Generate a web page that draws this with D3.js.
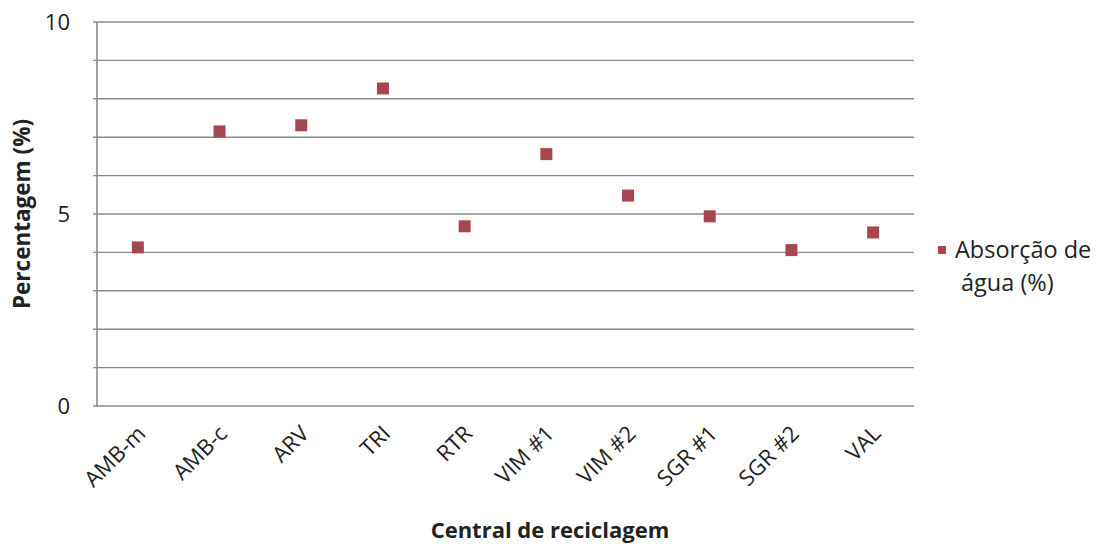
<!DOCTYPE html>
<html>
<head>
<meta charset="utf-8">
<script src="https://cdn.jsdelivr.net/npm/d3@7"></script>
<style>
  html, body { margin: 0; padding: 0; background: #fff; }
  svg { display: block; }
  text { font-family: "Open Sans", Lato, sans-serif; fill: #222; }
</style>
</head>
<body>
<svg id="chart" width="1102" height="544"></svg>
<script>
// Water absorption by recycling plant
const categories = ["AMB-m", "AMB-c", "ARV", "TRI", "RTR", "VIM #1", "VIM #2", "SGR #1", "SGR #2", "VAL"];
const absorption = [4.13, 7.15, 7.31, 8.27, 4.68, 6.56, 5.48, 4.94, 4.06, 4.52];
const yLabelTicks = [0, 5, 10];
const yGridTicks = [0, 1, 2, 3, 4, 5, 6, 7, 8, 9, 10];
const seriesName = ["Absorção de", "água (%)"];
const xTitle = "Central de reciclagem";
const yTitle = "Percentagem (%)";

const svg = d3.select("#chart");
const plot = { left: 97, right: 914, top: 22, bottom: 406 };
const markColor = "#a8464d";
const gridColor = "#8a8a8a";

const x = d3.scaleBand().domain(categories).range([plot.left, plot.right]);
const y = d3.scaleLinear().domain([0, 10]).range([plot.bottom, plot.top]);

// horizontal gridlines
svg.append("g")
  .selectAll("line")
  .data(yGridTicks)
  .join("line")
  .attr("x1", plot.left - 4)
  .attr("x2", plot.right)
  .attr("y1", d => y(d))
  .attr("y2", d => y(d))
  .attr("stroke", gridColor)
  .attr("stroke-width", 1.4);

// y axis line
svg.append("line")
  .attr("x1", plot.left).attr("x2", plot.left)
  .attr("y1", y(10)).attr("y2", y(0))
  .attr("stroke", gridColor).attr("stroke-width", 1.6);

// y tick labels
svg.append("g")
  .selectAll("text")
  .data(yLabelTicks)
  .join("text")
  .attr("x", plot.left - 27)
  .attr("y", d => y(d))
  .attr("dy", "0.35em")
  .attr("text-anchor", "end")
  .attr("font-size", 22)
  .text(d => d);

// x tick labels, rotated
svg.append("g")
  .selectAll("text")
  .data(categories)
  .join("text")
  .attr("transform", d => `translate(${x(d) + x.bandwidth() / 2 + 9},${plot.bottom + 29}) rotate(-45)`)
  .attr("text-anchor", "end")
  .attr("font-size", 22)
  .text(d => d);

// markers
svg.append("g")
  .selectAll("rect")
  .data(categories.map((c, i) => ({ c, v: absorption[i] })))
  .join("rect")
  .attr("x", d => x(d.c) + x.bandwidth() / 2 - 6)
  .attr("y", d => y(d.v) - 6)
  .attr("width", 12)
  .attr("height", 12)
  .attr("fill", markColor);

// axis titles
svg.append("text")
  .attr("x", 550).attr("y", 538)
  .attr("text-anchor", "middle")
  .attr("font-size", 22)
  .attr("font-weight", "bold")
  .text(xTitle);

svg.append("text")
  .attr("transform", `translate(30,214) rotate(-90)`)
  .attr("text-anchor", "middle")
  .attr("font-size", 22.5)
  .attr("font-weight", "bold")
  .text(yTitle);

// legend
const legend = svg.append("g");
legend.append("rect")
  .attr("x", 938).attr("y", 246)
  .attr("width", 8).attr("height", 8)
  .attr("fill", markColor);
legend.selectAll("text.series")
  .data(seriesName)
  .join("text")
  .attr("class", "series")
  .attr("x", 955)
  .attr("y", (d, i) => 258 + i * 33)
  .attr("font-size", 23.5)
  .attr("dx", (d, i) => i === 0 ? 0 : 6)
  .text(d => d);
</script>
</body>
</html>
